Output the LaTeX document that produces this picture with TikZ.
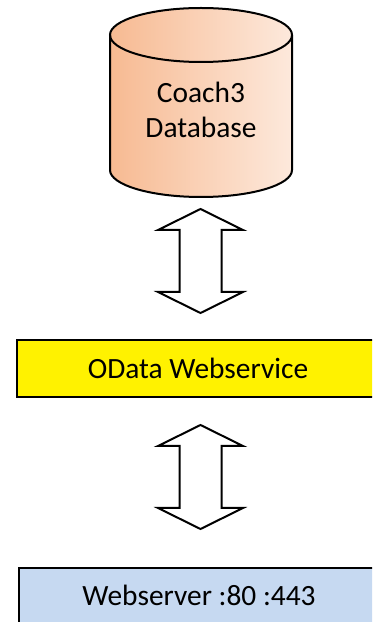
\documentclass[tikz,border=0pt]{standalone}
\usepackage{fontspec}
\setmainfont{Carlito}
\usepackage{tikz}
\usetikzlibrary{positioning}

\definecolor{dbleft}{RGB}{247,186,146}
\definecolor{dbright}{RGB}{253,233,220}
\definecolor{websrvblue}{RGB}{198,217,241}

\begin{document}
\begin{tikzpicture}
    [ x = .5pt, y = .5pt
    , every node/.style =
      { font = \fontsize{14.7}{17.7}\selectfont }
    , layer/.style =
      { draw, line width = 1pt, minimum height = 28.5pt, inner sep = 0pt }
    , updown/.pic =
      { \draw [line width = 1pt, line join = miter, fill = white]
          (0,52) -- (42.5,31) -- (21,31) -- (21,-31) -- (42.5,-31)
          -- (0,-52) -- (-42.5,-31) -- (-21,-31) -- (-21,31)
          -- (-42.5,31) -- cycle; }
    ]
    \useasboundingbox (0,0) rectangle (372,622);

    % database cylinder
    \shade [left color = dbleft, right color = dbright]
      (110,587) -- (110,452) arc [start angle = 180, end angle = 360,
        x radius = 91, y radius = 27] -- (292,587)
      arc [start angle = 0, end angle = 180, x radius = 91, y radius = 27];
    \draw [line width = 1pt]
      (110,587) -- (110,452) arc [start angle = 180, end angle = 360,
        x radius = 91, y radius = 27] -- (292,587);
    \draw [line width = 1pt] (201,587) ellipse [x radius = 91, y radius = 27];
    \node [align = center, inner sep = 0pt] (db) at (201,512) {Coach3\\Database};

    % layers
    \path [clip] (0,0) rectangle (372,622);
    \node [layer, fill = yellow, minimum width = 182pt, anchor = north west]
      (odata) at (16,283) {};
    \node at (198,254) {OData Webservice};
    \node [layer, fill = websrvblue, minimum width = 182pt, anchor = north west]
      (websrv) at (18,55) {};
    \node at (199,27) {Webserver :80 :443};

    % arrows
    \coordinate (a1) at (200.5,361);
    \coordinate (a2) at (200.5,145);
    \pic at (a1) {updown};
    \pic at (a2) {updown};
\end{tikzpicture}
\end{document}
